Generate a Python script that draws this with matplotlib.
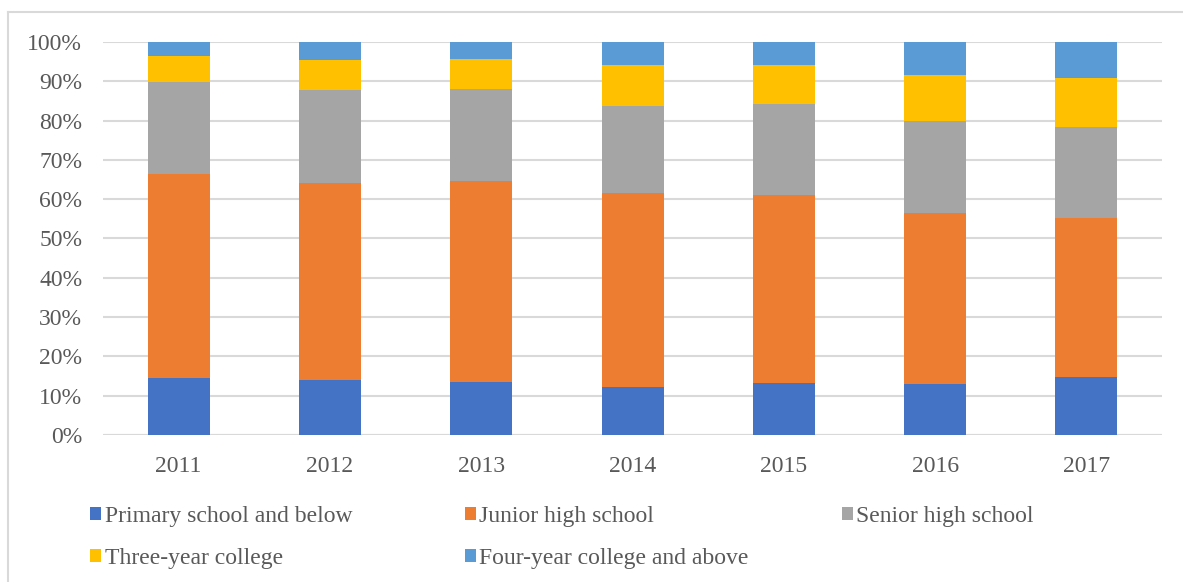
import numpy as np
import matplotlib.pyplot as plt
from matplotlib.patches import Patch
from matplotlib.lines import Line2D

plt.rcParams['font.family'] = ['Liberation Serif', 'DejaVu Serif']

years = ['2011', '2012', '2013', '2014', '2015', '2016', '2017']
levels = ['Primary school and below', 'Junior high school', 'Senior high school',
          'Three-year college', 'Four-year college and above']

# share of each education level per year (%)
primary = [14.4, 14.0, 13.5, 12.3, 13.2, 13.1, 14.7]
junior = [52.0, 50.2, 51.2, 49.3, 47.9, 43.3, 40.6]
senior = [23.4, 23.7, 23.3, 22.2, 23.2, 23.5, 23.1]
college3 = [6.6, 7.4, 7.6, 10.3, 9.8, 11.8, 12.5]
college4 = [3.6, 4.7, 4.4, 5.9, 5.9, 8.3, 9.1]

colors = ['#4472C4', '#ED7D31', '#A5A5A5', '#FFC000', '#5B9BD5']
txt = '#595959'
grid = '#D9D9D9'

fig = plt.figure(figsize=(11.83, 5.82), dpi=100)
ax = fig.add_axes([0.0871, 0.2526, 0.8952, 0.6753])

x = np.arange(len(years))
series = [primary, junior, senior, college3, college4]
bottom = np.zeros(len(years))
for vals, c, name in zip(series, colors, levels):
    v = np.array(vals) / 100.0
    ax.bar(x, v, 0.41, bottom=bottom, color=c, label=name, zorder=3)
    bottom += v

ax.set_xlim(-0.5, len(years) - 0.5)
ax.set_ylim(0, 1)
ax.set_yticks(np.arange(0, 1.01, 0.1))
ax.set_yticklabels([f'{int(round(t * 100))}%' for t in np.arange(0, 1.01, 0.1)])
ax.set_xticks(x)
ax.set_xticklabels(years)
ax.yaxis.grid(True, color=grid, linewidth=1.5, zorder=0)
for s in ax.spines.values():
    s.set_visible(False)
ax.axhline(0, color=grid, linewidth=1.5, zorder=2)
ax.tick_params(axis='both', length=0, labelsize=17, labelcolor=txt)
ax.tick_params(axis='x', pad=15)
ax.tick_params(axis='y', pad=15)

# legend: three evenly spaced columns, filled row by row
handles = [Patch(facecolor=c, edgecolor='none') for c in colors]
columns = [[0, 3], [1, 4], [2]]
col_x = [0.0685, 0.385, 0.704]
for cx, idx in zip(col_x, columns):
    leg = fig.legend([handles[i] for i in idx], [levels[i] for i in idx],
                     loc='upper left', bbox_to_anchor=(cx, 0.147),
                     frameon=False, fontsize=17, labelcolor=txt,
                     handlelength=0.45, handleheight=0.45, handletextpad=0.15,
                     labelspacing=0.9, borderaxespad=0)

# chart frame
fig.add_artist(Line2D([8 / 1183, 8 / 1183], [0, 1 - 12 / 582], transform=fig.transFigure,
                      color=grid, linewidth=1.5))
fig.add_artist(Line2D([8 / 1183, 1], [1 - 12 / 582, 1 - 12 / 582], transform=fig.transFigure,
                      color=grid, linewidth=1.5))

fig.savefig('out.png', dpi=100)
